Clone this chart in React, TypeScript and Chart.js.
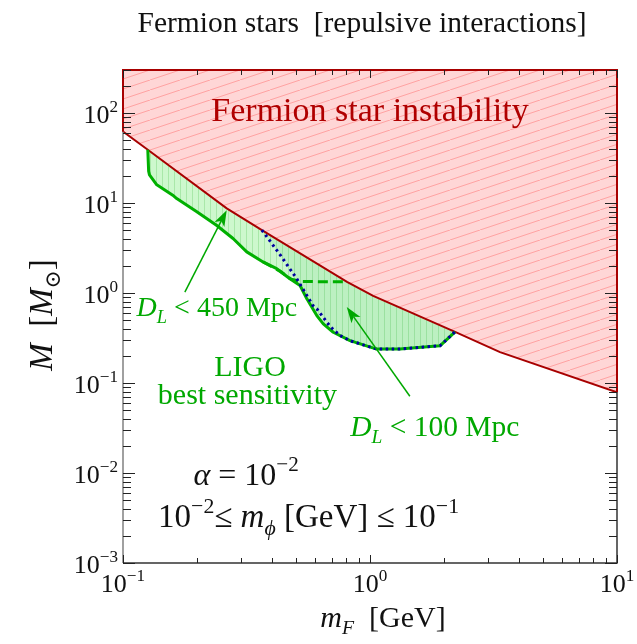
import React, { useEffect, useRef } from 'react';
import { Chart, registerables } from 'chart.js';

Chart.register(...registerables);

// ---- data (m_F in GeV, M in solar masses) ----
const instabilityMF = [0.1, 0.126, 0.263, 0.365, 0.807, 1.03, 2.21, 3.36, 10];
const instabilityMass = [62, 39, 8.7, 5.0, 1.33, 0.93, 0.37, 0.22, 0.079];

const ligo450MF = [0.126, 0.127, 0.128, 0.137, 0.144, 0.159, 0.165, 0.199, 0.239, 0.279, 0.317, 0.369, 0.419, 0.474, 0.521, 0.555, 0.609, 0.647, 0.71, 0.83, 1.064, 1.32, 1.92, 2.21];
const ligo450Mass = [39, 22.5, 20.5, 15.9, 14.6, 12.2, 11.2, 8.0, 5.66, 4.03, 2.86, 2.21, 1.86, 1.44, 1.21, 0.861, 0.561, 0.453, 0.366, 0.295, 0.238, 0.238, 0.259, 0.37];

const ligo100MF = [0.365, 0.432, 0.505, 0.521, 0.587, 0.609, 0.689, 0.757, 0.83, 1.064, 1.32, 1.92, 2.21];
const ligo100Mass = [5.0, 2.67, 1.44, 1.25, 0.727, 0.667, 0.425, 0.336, 0.295, 0.238, 0.238, 0.259, 0.37];

const dashedMF = [0.369, 0.432, 0.48, 0.53, 0.807];
const dashedMass = [2.21, 1.75, 1.42, 1.34, 1.33];

const xTickExponents = [-1, 0, 1];
const yTickExponents = [-3, -2, -1, 0, 1, 2];
const X_MIN = 0.1, X_MAX = 10, Y_MIN = 1e-3, Y_MAX = 300;

const FAMILY = '"Liberation Serif", "Times New Roman", "DejaVu Serif", serif';

type Run = { t: string; i?: boolean; sup?: boolean; sub?: boolean };

function runFont(r: Run, size: number) {
  const s = r.sup || r.sub ? size * 0.66 : size;
  return `${r.i ? 'italic ' : ''}${s}px ${FAMILY}`;
}

function drawRich(ctx: CanvasRenderingContext2D, runs: Run[], x: number, y: number, size: number, color: string, align: 'left' | 'center' | 'right' = 'center') {
  ctx.save();
  ctx.fillStyle = color;
  ctx.textBaseline = 'alphabetic';
  ctx.textAlign = 'left';
  let w = 0;
  const ws = runs.map((r) => {
    ctx.font = runFont(r, size);
    const m = ctx.measureText(r.t).width;
    w += m;
    return m;
  });
  let cx = align === 'center' ? x - w / 2 : align === 'right' ? x - w : x;
  runs.forEach((r, k) => {
    ctx.font = runFont(r, size);
    const dy = r.sup ? -0.42 * size : r.sub ? 0.24 * size : 0;
    ctx.fillText(r.t, cx, y + dy);
    cx += ws[k];
  });
  ctx.restore();
}

function drawArrow(ctx: CanvasRenderingContext2D, x1: number, y1: number, x2: number, y2: number, color: string) {
  const a = Math.atan2(y2 - y1, x2 - x1);
  const c = Math.cos(a), s = Math.sin(a);
  const L = 16, W = 5.5, notch = 4;
  ctx.save();
  ctx.strokeStyle = color;
  ctx.fillStyle = color;
  ctx.lineWidth = 1.5;
  ctx.beginPath();
  ctx.moveTo(x1, y1);
  ctx.lineTo(x2 - (L - notch) * c, y2 - (L - notch) * s);
  ctx.stroke();
  const bx = x2 - L * c, by = y2 - L * s;
  ctx.beginPath();
  ctx.moveTo(x2, y2);
  ctx.lineTo(bx - W * s, by + W * c);
  ctx.lineTo(x2 - (L - notch) * c, y2 - (L - notch) * s);
  ctx.lineTo(bx + W * s, by - W * c);
  ctx.closePath();
  ctx.fill();
  ctx.restore();
}

function makePattern(w: number, h: number, bg: string, line: string, draw: (g: CanvasRenderingContext2D) => void) {
  const c = document.createElement('canvas');
  c.width = w;
  c.height = h;
  const g = c.getContext('2d')!;
  g.fillStyle = bg;
  g.fillRect(0, 0, w, h);
  g.strokeStyle = line;
  g.lineWidth = 1;
  draw(g);
  return g.createPattern(c, 'repeat')!;
}

const decorPlugin = {
  id: 'decor',
  beforeDraw(chart: any) {
    const ctx = chart.ctx;
    ctx.save();
    ctx.fillStyle = '#ffffff';
    ctx.fillRect(0, 0, chart.width, chart.height);
    ctx.restore();
  },
  afterDatasetsDraw(chart: any) {
    const ctx: CanvasRenderingContext2D = chart.ctx;
    const xs = chart.scales.x, ys = chart.scales.y;
    const { left, right, top, bottom } = chart.chartArea;
    const P = (mx: number, my: number) => [xs.getPixelForValue(mx), ys.getPixelForValue(my)];

    // arrows
    const g = '#00a800';
    let [a1, b1] = P(0.178, 1.02), [a2, b2] = P(0.263, 8.3);
    drawArrow(ctx, a1, b1, a2, b2, g);
    [a1, b1] = P(1.45, 0.0713);
    [a2, b2] = P(0.805, 0.697);
    drawArrow(ctx, a1, b1, a2, b2, g);

    // frame
    ctx.save();
    ctx.lineWidth = 1.5;
    ctx.strokeStyle = '#333';
    ctx.beginPath();
    ctx.moveTo(right, top);
    ctx.lineTo(right, bottom);
    ctx.lineTo(left, bottom);
    ctx.stroke();
    ctx.strokeStyle = '#808080';
    ctx.beginPath();
    ctx.moveTo(left, bottom);
    ctx.lineTo(left, top);
    ctx.stroke();
    // red region border along frame
    const yl = ys.getPixelForValue(instabilityMass[0]);
    const yr = ys.getPixelForValue(instabilityMass[instabilityMass.length - 1]);
    ctx.strokeStyle = '#a80000';
    ctx.lineWidth = 2;
    ctx.beginPath();
    ctx.moveTo(left, yl);
    ctx.lineTo(left, top);
    ctx.lineTo(right, top);
    ctx.lineTo(right, yr);
    ctx.stroke();

    // ticks
    ctx.strokeStyle = '#222';
    ctx.lineWidth = 1;
    ctx.beginPath();
    for (let e = -1; e <= 1; e++) {
      for (let k = 1; k <= 9; k++) {
        const v = k * Math.pow(10, e);
        if (v > X_MAX * 1.0001) break;
        const px = Math.round(xs.getPixelForValue(v)) + 0.5;
        const len = k === 1 ? 8 : 5;
        ctx.moveTo(px, bottom);
        ctx.lineTo(px, bottom - len);
        ctx.moveTo(px, top);
        ctx.lineTo(px, top + len);
      }
    }
    for (let e = -3; e <= 2; e++) {
      for (let k = 1; k <= 9; k++) {
        const v = k * Math.pow(10, e);
        if (v > Y_MAX * 1.0001) break;
        const py = Math.round(ys.getPixelForValue(v)) + 0.5;
        const len = k === 1 ? 12 : 8;
        ctx.moveTo(left, py);
        ctx.lineTo(left + len, py);
        ctx.moveTo(right, py);
        ctx.lineTo(right - len, py);
      }
    }
    ctx.stroke();
    ctx.restore();

    // tick labels
    xTickExponents.forEach((e) => {
      const px = xs.getPixelForValue(Math.pow(10, e));
      drawRich(ctx, [{ t: '10' }, { t: e < 0 ? '\u2212' + -e : String(e), sup: true }], px, bottom + 29, 26, '#111', 'center');
    });
    yTickExponents.forEach((e) => {
      const py = ys.getPixelForValue(Math.pow(10, e));
      drawRich(ctx, [{ t: '10' }, { t: e < 0 ? '\u2212' + -e : String(e), sup: true }], left - 5, py + 10, 26, '#111', 'right');
    });

    // titles
    drawRich(ctx, [{ t: 'Fermion stars  [repulsive interactions]' }], 362, 32, 29.5, '#111', 'center');
    drawRich(ctx, [{ t: 'm', i: true }, { t: 'F', i: true, sub: true }, { t: '  [GeV]' }], 383, 627, 30, '#111', 'center');
    ctx.save();
    ctx.translate(52, 315);
    ctx.rotate(-Math.PI / 2);
    drawRich(ctx, [{ t: 'M', i: true }, { t: '  [' }, { t: 'M', i: true }, { t: '\u2299', sub: true }, { t: ']' }], 0, 0, 33, '#111', 'center');
    ctx.restore();

    // in-plot labels
    let [tx, ty] = P(1.0, 82);
    drawRich(ctx, [{ t: 'Fermion star instability' }], tx, ty, 34, '#b00000');
    [tx, ty] = P(0.24, 0.557);
    drawRich(ctx, [{ t: 'D', i: true }, { t: 'L', i: true, sub: true }, { t: ' < 450 Mpc' }], tx, ty, 28, g);
    [tx, ty] = P(0.327, 0.12);
    drawRich(ctx, [{ t: 'LIGO' }], tx, ty, 30, g);
    [tx, ty] = P(0.319, 0.058);
    drawRich(ctx, [{ t: 'best sensitivity' }], tx, ty, 30, g);
    [tx, ty] = P(1.83, 0.0255);
    drawRich(ctx, [{ t: 'D', i: true }, { t: 'L', i: true, sub: true }, { t: ' < 100 Mpc' }], tx, ty, 29.5, g);
    [tx, ty] = P(0.315, 0.00743);
    drawRich(ctx, [{ t: '\u03b1', i: true }, { t: ' = 10' }, { t: '\u22122', sup: true }], tx, ty, 32, '#111');
    [tx, ty] = P(0.564, 0.00252);
    drawRich(ctx, [{ t: '10' }, { t: '\u22122', sup: true }, { t: '\u2264 ' }, { t: 'm', i: true }, { t: '\u03d5', i: true, sub: true }, { t: ' [GeV] \u2264 10' }, { t: '\u22121', sup: true }], tx, ty, 33, '#111');
  },
};

const toPts = (xs: number[], ys: number[]) => xs.map((x, i) => ({ x, y: ys[i] }));

export default function App() {
  const ref = useRef<HTMLCanvasElement>(null);
  useEffect(() => {
    const canvas = ref.current!;
    const redHatch = makePattern(30, 10, '#ffd6d6', '#ffa3a3', (g) => {
      g.beginPath();
      g.moveTo(0, 10);
      g.lineTo(30, 0);
      g.moveTo(-30, 10);
      g.lineTo(0, 0);
      g.moveTo(30, 10);
      g.lineTo(60, 0);
      g.stroke();
    });
    const greenHatch = makePattern(6, 6, '#cdf8cd', '#a9e8a9', (g) => {
      g.beginPath();
      g.moveTo(0.5, 0);
      g.lineTo(0.5, 6);
      g.stroke();
    });
    const chart = new Chart(canvas, {
      type: 'line',
      data: {
        datasets: [
          {
            data: toPts(ligo100MF, ligo100Mass),
            borderColor: '#0000a0',
            borderWidth: 3,
            borderDash: [2.5, 3.5],
            borderCapStyle: 'butt',
            fill: 3,
            backgroundColor: 'rgba(0,150,60,0.08)',
            pointRadius: 0,
          },
          {
            data: toPts(dashedMF, dashedMass),
            borderColor: '#00b000',
            borderWidth: 3,
            borderDash: [10, 5],
            fill: false,
            pointRadius: 0,
          },
          {
            data: toPts(ligo450MF, ligo450Mass),
            borderColor: '#00b000',
            borderWidth: 3,
            borderJoinStyle: 'round',
            fill: 3,
            backgroundColor: greenHatch,
            pointRadius: 0,
          },
          {
            data: toPts(instabilityMF, instabilityMass),
            borderColor: '#a80000',
            borderWidth: 2,
            fill: 'end',
            backgroundColor: redHatch,
            pointRadius: 0,
          },
        ],
      } as any,
      options: {
        responsive: false,
        maintainAspectRatio: false,
        devicePixelRatio: 1,
        animation: false,
        events: [],
        layout: { padding: { left: 123, right: 20, top: 70, bottom: 81 } },
        scales: {
          x: { type: 'logarithmic', min: X_MIN, max: X_MAX, display: false },
          y: { type: 'logarithmic', min: Y_MIN, max: Y_MAX, display: false },
        },
        plugins: {
          legend: { display: false },
          tooltip: { enabled: false },
          filler: { drawTime: 'beforeDatasetsDraw' },
        },
      } as any,
      plugins: [decorPlugin],
    });
    return () => chart.destroy();
  }, []);
  return (
    <div style={{ position: 'absolute', left: 0, top: 0, width: 637, height: 644 }}>
      <canvas ref={ref} width={637} height={644} style={{ display: 'block' }} />
    </div>
  );
}
